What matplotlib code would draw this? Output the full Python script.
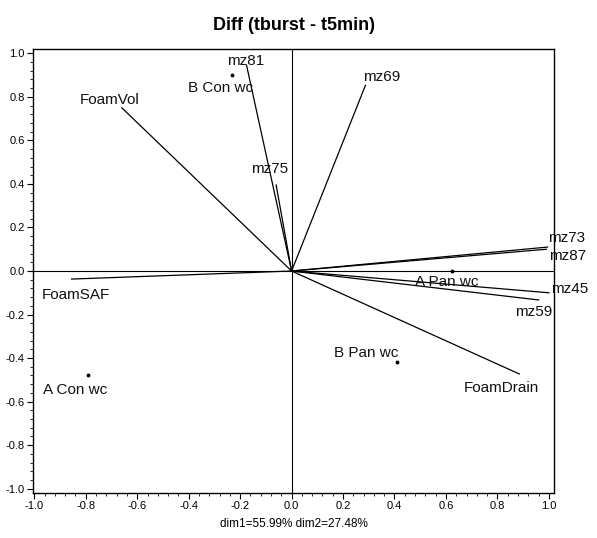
import matplotlib
matplotlib.use('Agg')
from matplotlib import pyplot as plt
from matplotlib.ticker import MultipleLocator, AutoMinorLocator

plt.rcParams.update({
    'font.family': ['Liberation Sans', 'DejaVu Sans'],
    'font.size': 11,
    'axes.linewidth': 1.0,
})

# variable loadings (end points of the lines from the origin)
var_names = ['mz81', 'FoamVol', 'mz75', 'FoamSAF', 'mz69', 'mz73', 'mz87', 'mz45', 'mz59', 'FoamDrain']
var_x = [-0.175, -0.66, -0.06, -0.855, 0.287, 0.995, 0.99, 1.00, 0.96, 0.885]
var_y = [0.945, 0.75, 0.395, -0.037, 0.853, 0.11, 0.10, -0.10, -0.133, -0.473]

# label positions of the variables
var_lx = [-0.18, -0.707, -0.085, -0.84, 0.35, 0.995, 1.0, 1.01, 0.94, 0.815]
var_ly = [0.965, 0.785, 0.47, -0.11, 0.89, 0.15, 0.07, -0.083, -0.19, -0.537]
var_ha = ['center', 'center', 'center', 'center', 'center', 'left', 'left', 'left', 'center', 'center']

# sample scores
obs_names = ['B Con wc', 'A Con wc', 'A Pan wc', 'B Pan wc']
obs_x = [-0.23, -0.79, 0.625, 0.41]
obs_y = [0.90, -0.48, 0.0, -0.42]
obs_lx = [-0.276, -0.84, 0.605, 0.29]
obs_ly = [0.84, -0.545, -0.05, -0.376]

fig = plt.figure(figsize=(5.97, 5.38), dpi=100)
ax = fig.add_axes([0.0553, 0.0836, 0.8727, 0.8253])

ax.axhline(0, color='black', lw=0.8)
ax.axvline(0, color='black', lw=0.8)

for x, y in zip(var_x, var_y):
    ax.plot([0, x], [0, y], color='black', lw=0.9)
for name, lx, ly, ha in zip(var_names, var_lx, var_ly, var_ha):
    ax.text(lx, ly, name, ha=ha, va='center', fontsize=11, color='#111111')

ax.plot(obs_x, obs_y, 'o', color='black', markersize=1.8)
for name, lx, ly in zip(obs_names, obs_lx, obs_ly):
    ax.text(lx, ly, name, ha='center', va='center', fontsize=11, color='#111111')

ax.set_xlim(-1.005, 1.02)
ax.set_ylim(-1.02, 1.02)
ax.xaxis.set_major_locator(MultipleLocator(0.2))
ax.yaxis.set_major_locator(MultipleLocator(0.2))
ax.xaxis.set_minor_locator(AutoMinorLocator(5))
ax.yaxis.set_minor_locator(AutoMinorLocator(5))
fmt = plt.FuncFormatter(lambda v, p: f'{v:.1f}'.replace('-0.0', '0.0'))
ax.xaxis.set_major_formatter(fmt)
ax.yaxis.set_major_formatter(fmt)
ax.tick_params(which='major', direction='out', length=4, labelsize=8, pad=2)
ax.tick_params(which='minor', direction='out', length=2)

ax.set_title('Diff (tburst - t5min)', fontsize=13, fontweight='bold', pad=14)
ax.set_xlabel('dim1=55.99% dim2=27.48%', fontsize=8.5, labelpad=5)

plt.savefig('out.png', dpi=100)
